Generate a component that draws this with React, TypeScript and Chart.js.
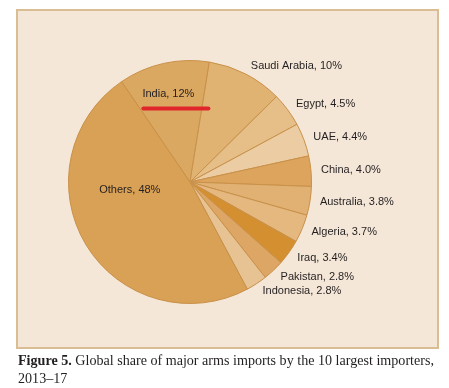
import React, { useEffect, useRef } from "react";
import { Chart, registerables } from "chart.js";

Chart.register(...registerables);

const categories = ["India", "Saudi Arabia", "Egypt", "UAE", "China", "Australia", "Algeria", "Iraq", "Pakistan", "Indonesia", "Others"];
const shares = [12, 10, 4.5, 4.4, 4.0, 3.8, 3.7, 3.4, 2.8, 2.8, 48];
const shareLabels = ["12%", "10%", "4.5%", "4.4%", "4.0%", "3.8%", "3.7%", "3.4%", "2.8%", "2.8%", "48%"];
const sliceColors = ["#DBA862", "#E1B373", "#E6BE88", "#ECCCA2", "#DCA45D", "#E1B173", "#E4B87F", "#D48F31", "#DDA664", "#E7C293", "#D9A155"];

const FONT = "11px 'Liberation Sans', Arial, sans-serif";

const decorPlugin = {
  id: "decor",
  beforeDraw(chart: any) {
    const ctx = chart.ctx;
    ctx.save();
    ctx.fillStyle = "#F5E7D7";
    ctx.fillRect(16, 9, 423, 340);
    ctx.strokeStyle = "#DABD93";
    ctx.lineWidth = 2;
    ctx.strokeRect(17, 10, 421, 338);
    ctx.restore();
  },
  afterDatasetsDraw(chart: any) {
    const ctx = chart.ctx;
    const meta = chart.getDatasetMeta(0);
    ctx.save();
    ctx.font = FONT;
    ctx.fillStyle = "#231F20";
    ctx.textBaseline = "middle";
    meta.data.forEach((arc: any, i: number) => {
      const { x, y, startAngle, endAngle, outerRadius } = arc.getProps(["x", "y", "startAngle", "endAngle", "outerRadius"], true);
      const mid = (startAngle + endAngle) / 2;
      const text = categories[i] + ", " + shareLabels[i];
      if (categories[i] === "India") {
        const a = mid - 0.02;
        const r = outerRadius * 0.75;
        const lx = x + Math.cos(a) * r;
        const ly = y + Math.sin(a) * r;
        ctx.textAlign = "center";
        ctx.fillText(text, lx, ly);
        const w = ctx.measureText(text).width;
        const left = lx - w / 2 + 1;
        ctx.beginPath();
        ctx.strokeStyle = "#E0262A";
        ctx.lineWidth = 4;
        ctx.lineCap = "round";
        ctx.moveTo(left, ly + 15);
        ctx.lineTo(left + 65, ly + 15);
        ctx.stroke();
      } else if (categories[i] === "Others") {
        const a = mid + (23.3 * Math.PI) / 180;
        const r = outerRadius * 0.5;
        ctx.textAlign = "center";
        ctx.fillText(text, x + Math.cos(a) * r, y + Math.sin(a) * r);
      } else {
        const r = outerRadius + 9;
        ctx.textAlign = "left";
        ctx.fillText(text, x + Math.cos(mid) * r + 1, y + Math.sin(mid) * r);
      }
    });
    ctx.restore();
  },
};

export default function App() {
  const ref = useRef<HTMLCanvasElement>(null);
  useEffect(() => {
    const chart = new Chart(ref.current as HTMLCanvasElement, {
      type: "pie",
      data: {
        labels: categories,
        datasets: [
          {
            data: shares,
            backgroundColor: sliceColors,
            borderColor: "#C99149",
            borderWidth: 1,
          },
        ],
      },
      options: {
        animation: false,
        responsive: false,
        rotation: -34.3,
        layout: { padding: { left: 68, right: 137, top: 60, bottom: 48 } },
        plugins: { legend: { display: false }, tooltip: { enabled: false } },
      },
      plugins: [decorPlugin],
    });
    return () => chart.destroy();
  }, []);
  return (
    <div style={{ position: "absolute", left: 0, top: 0, width: 449, height: 388, background: "#FFFFFF" }}>
      <canvas ref={ref} width={449} height={352} style={{ display: "block" }} />
      <div
        style={{
          position: "absolute",
          left: 18,
          top: 351,
          width: 431,
          fontFamily: "'Liberation Serif', 'DejaVu Serif', serif",
          fontSize: 14.1,
          lineHeight: "18px",
          color: "#231F20",
        }}
      >
        <b>Figure 5.</b> Global share of major arms imports by the 10 largest importers, 2013–17
      </div>
    </div>
  );
}
